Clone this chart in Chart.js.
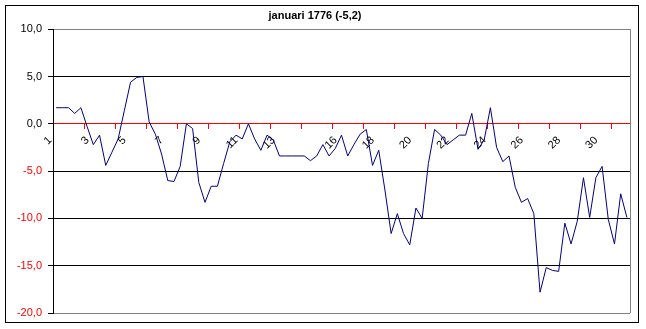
<!DOCTYPE html>
<html>
<head>
<meta charset="utf-8">
<script src="https://cdn.jsdelivr.net/npm/chart.js@4/dist/chart.umd.min.js"></script>
<style>
  body { margin: 0; background: #fff; }
  #wrap { width: 646px; height: 329px; position: relative; }
</style>
</head>
<body>
<div id="wrap"><canvas id="tempChart"></canvas></div>
<script>
// three readings a day, januari 1776
const temps = [
    1.7, 1.7, 1.7, 1.1, 1.7, -0.3, -2.2, -1.2, -4.4, -3.0,
    -1.6, 1.4, 4.4, 4.9, 5.0, 0.2, -1.1, -3.2, -6.0, -6.1,
    -4.5, 0.0, -0.5, -6.2, -8.3, -6.6, -6.6, -4.2, -1.9, -1.2,
    -1.6, 0.0, -1.6, -2.8, -1.2, -1.7, -3.4, -3.4, -3.4, -3.4,
    -3.4, -3.9, -3.4, -2.2, -3.4, -2.6, -1.2, -3.4, -2.2, -1.1,
    -0.6, -4.4, -2.8, -7.0, -11.6, -9.5, -11.6, -12.8, -8.9, -10.0,
    -4.2, -0.6, -1.2, -2.2, -1.7, -1.2, -1.2, 1.1, -2.7, -1.7,
    1.7, -2.5, -4.0, -3.4, -6.7, -8.3, -7.9, -9.5, -17.8, -15.2,
    -15.5, -15.6, -10.5, -12.7, -10.3, -5.7, -9.9, -5.7, -4.5, -10.1,
    -12.7, -7.4, -9.9
];
const dayTicks = ['1', '3', '5', '7', '9', '11', '13', '16', '18', '20', '22', '24', '26', '28', '30'];
const dayTickIndex = [0, 6, 12, 18, 24, 30, 36, 46, 52, 58, 64, 70, 76, 82, 88];
const yTicks = [10, 5, 0, -5, -10, -15, -20];

const labels = temps.map(() => '');
dayTickIndex.forEach((idx, k) => { labels[idx] = dayTicks[k]; });

const fmt = v => v.toFixed(1).replace('.', ',');

// outer frame and the gray right edge of the plot
const framePlugin = {
    id: 'frame',
    beforeDatasetsDraw(chart) {
        const { ctx, chartArea } = chart;
        ctx.save();
        ctx.strokeStyle = '#808080';
        ctx.lineWidth = 1;
        ctx.beginPath();
        ctx.moveTo(Math.round(chartArea.right) + 0.5, chartArea.top);
        ctx.lineTo(Math.round(chartArea.right) + 0.5, chartArea.bottom);
        ctx.stroke();
        ctx.restore();
    },
    afterDraw(chart) {
        const { ctx } = chart;
        ctx.save();
        ctx.strokeStyle = '#000';
        ctx.lineWidth = 1;
        ctx.strokeRect(5.5, 5.5, 633, 317);
        ctx.restore();
    }
};

new Chart(document.getElementById('tempChart'), {
    type: 'line',
    data: {
        labels: labels,
        datasets: [{
            data: temps,
            borderColor: '#000080',
            borderWidth: 1,
            pointRadius: 0,
            tension: 0,
            fill: false
        }]
    },
    options: {
        responsive: true,
        maintainAspectRatio: false,
        animation: false,
        layout: { padding: { left: 0, right: 16, top: 0, bottom: 16 } },
        plugins: {
            legend: { display: false },
            tooltip: { enabled: false },
            title: {
                display: true,
                text: 'januari 1776 (-5,2)',
                color: '#000',
                font: { family: 'Liberation Sans', size: 11, weight: 'bold' },
                padding: { top: 9, bottom: 7 }
            }
        },
        scales: {
            x: {
                type: 'category',
                position: { y: 0 },
                offset: true,
                grid: {
                    offset: true,
                    drawOnChartArea: false,
                    tickLength: 5,
                    color: ctx => (ctx.index % 5 === 0 ? '#ff0000' : 'rgba(0,0,0,0)')
                },
                border: { color: '#ff0000', width: 1 },
                ticks: {
                    autoSkip: false,
                    minRotation: 45,
                    maxRotation: 45,
                    padding: 5,
                    labelOffset: -6,
                    color: '#000',
                    font: { family: 'Liberation Sans', size: 11 }
                }
            },
            y: {
                min: -20,
                max: 10,
                afterBuildTicks: scale => { scale.ticks = yTicks.map(v => ({ value: v })); },
                afterFit: scale => { scale.width = 53; },
                grid: {
                    color: ctx => (ctx.tick && (ctx.tick.value === 10 || ctx.tick.value === -20) ? '#808080' : '#000'),
                    tickColor: '#000',
                    tickLength: 5
                },
                border: { color: '#000', width: 1 },
                ticks: {
                    padding: 6,
                    callback: v => fmt(v),
                    color: ctx => (ctx.tick.value < 0 ? '#ff0000' : '#000'),
                    font: { family: 'Liberation Sans', size: 11 }
                }
            }
        }
    },
    plugins: [framePlugin]
});
</script>
</body>
</html>
